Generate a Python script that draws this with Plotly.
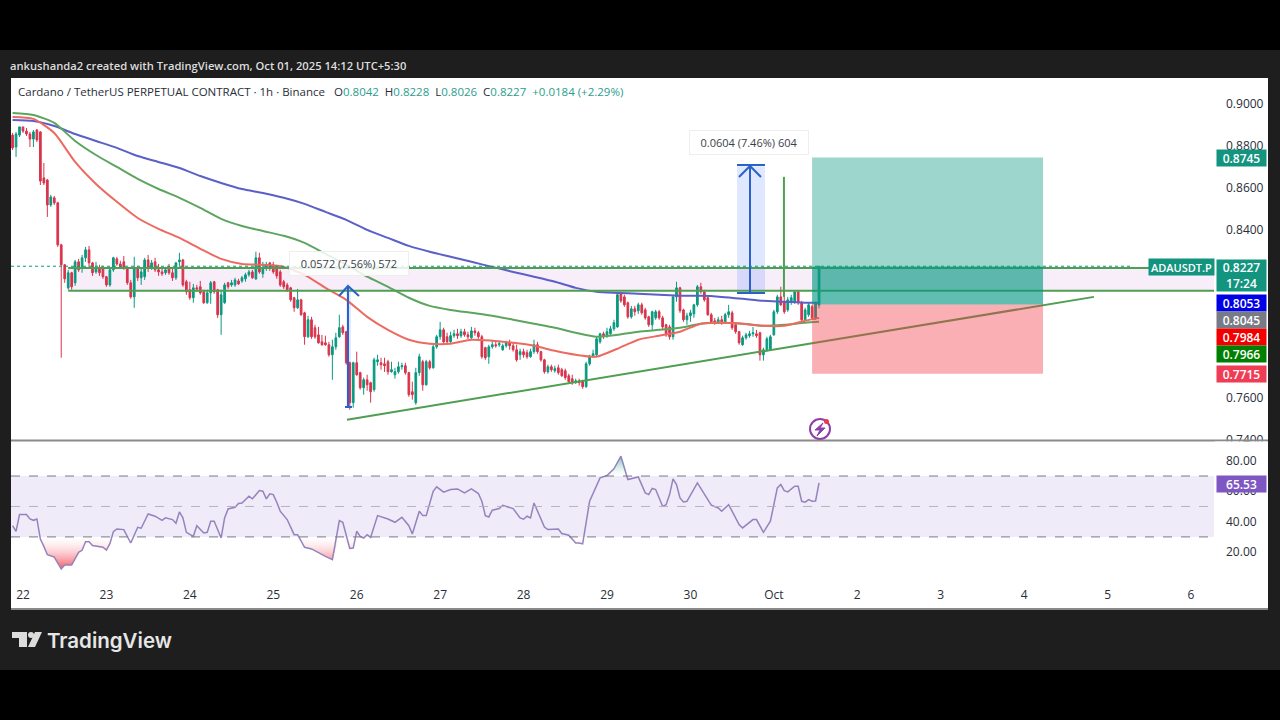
#!/usr/bin/env python
# -*- coding: utf-8 -*-
# ADAUSDT.P 1h chart, TradingView snapshot look
import pandas as pd
import plotly.graph_objects as go

# candle values in ticks of 0.0001, hourly from 2025-09-21 21:00
opens_t = [8852,8795,8852,8891,8871,8857,8833,8876,8867,8648,8638,8519,8553,8529,8329,8234,8124,8196,8148,8248,
           8224,8267,8305,8243,8200,8219,8219,8177,8138,8210,8262,8238,8248,8219,8148,8081,8219,8172,8177,8257,
           8219,8248,8210,8200,8196,8224,8196,8172,8248,8257,8153,8115,8077,8124,8129,8105,8053,8100,8153,8115,
           7996,8053,8148,8138,8138,8157,8157,8167,8186,8200,8167,8267,8191,8219,8243,8234,8219,8200,8153,8138,
           8124,8077,8029,8067,8005,7891,7972,7934,7900,7867,7862,7853,7805,7843,7891,7938,7915,7767,7577,7767,
           7720,7648,7686,7672,7639,7772,7767,7762,7772,7724,7710,7724,7748,7753,7720,7629,7577,7720,7772,7662,
           7772,7743,7843,7891,7924,7891,7867,7896,7905,7896,7915,7900,7886,7919,7910,7891,7839,7796,7843,7853,
           7853,7829,7848,7862,7848,7829,7805,7820,7815,7796,7820,7853,7820,7781,7724,7748,7729,7743,7734,7729,
           7705,7691,7672,7681,7681,7653,7762,7796,7805,7867,7905,7896,7905,7929,7938,8096,8081,8053,7986,8024,
           8015,8043,8019,7986,7948,7981,8010,7981,7948,7938,7891,8081,8124,8019,7972,7991,8000,8043,8129,8105,
           8077,7996,7967,7962,7972,7962,7996,8005,7948,7915,7853,7886,7896,7905,7905,7910,7805,7829,7829,7900,
           8010,8081,8058,8019,8058,8058,8105,8053,7972,7996,8034,7981,8042]
closes_t = [8791,8857,8891,8871,8857,8833,8867,8829,8633,8624,8519,8557,8529,8329,8234,8167,8196,8129,8248,8210,
            8267,8305,8243,8196,8219,8196,8177,8138,8210,8267,8238,8224,8219,8148,8081,8219,8172,8200,8257,8219,
            8243,8210,8200,8191,8210,8196,8172,8243,8257,8138,8105,8077,8124,8119,8100,8053,8100,8148,8105,7996,
            8091,8138,8129,8148,8162,8143,8172,8186,8200,8172,8267,8200,8219,8234,8219,8200,8181,8138,8129,8115,
            8067,8029,8067,7996,7891,7972,7891,7891,7862,7853,7853,7805,7843,7886,7934,7910,7767,7577,7767,7710,
            7648,7686,7662,7629,7781,7781,7758,7753,7724,7734,7724,7748,7753,7720,7615,7615,7720,7796,7662,7772,
            7743,7843,7891,7924,7867,7867,7896,7905,7896,7915,7900,7891,7919,7910,7891,7796,7791,7843,7853,7848,
            7858,7848,7862,7848,7829,7781,7820,7805,7796,7820,7853,7820,7781,7724,7748,7734,7739,7720,7705,7696,
            7677,7672,7681,7672,7653,7762,7796,7810,7881,7905,7891,7915,7929,7958,8091,8062,8043,7986,8024,8010,
            8043,8005,7981,7948,8010,8010,7981,7938,7900,7891,8081,8124,8015,7972,7991,8005,8043,8129,8105,8067,
            7996,7962,7962,7972,7962,7996,8010,7934,7915,7862,7886,7900,7905,7910,7896,7805,7829,7881,7891,8010,
            8081,8043,8010,8067,8077,8105,8053,7972,8019,8043,7981,8053,8227]
highs_t = [8862,8867,8891,8891,8886,8867,8876,8881,8871,8719,8643,8567,8562,8534,8334,8238,8210,8200,8257,8262,
           8281,8319,8324,8248,8248,8234,8229,8181,8219,8272,8272,8253,8276,8224,8162,8272,8229,8219,8267,8281,
           8257,8267,8238,8219,8224,8238,8224,8248,8291,8262,8162,8153,8143,8138,8157,8115,8115,8157,8157,8119,
           8115,8148,8153,8162,8172,8167,8181,8196,8210,8210,8296,8291,8248,8248,8248,8248,8234,8210,8162,8148,
           8129,8081,8119,8072,8010,7991,7986,7948,7938,7900,7896,7867,7877,7910,7996,7948,7919,7772,7772,7820,
           7724,7696,7710,7677,7791,7805,7791,7791,7781,7772,7743,7772,7767,7767,7724,7677,7743,7810,7781,7781,
           7781,7853,7900,7962,7934,7910,7915,7924,7929,7929,7929,7915,7938,7934,7919,7900,7843,7853,7872,7867,
           7872,7858,7872,7877,7862,7853,7834,7834,7829,7834,7877,7867,7824,7786,7758,7758,7753,7758,7743,7739,
           7715,7710,7691,7691,7686,7772,7805,7829,7891,7910,7915,7934,7943,7972,8105,8105,8091,8058,8038,8038,
           8053,8053,8029,7991,8015,8019,8019,7991,7953,7948,8091,8153,8129,8024,8005,8019,8048,8138,8148,8115,
           8081,8005,7981,7986,7991,8005,8043,8015,7953,7919,7896,7910,7919,7938,7924,7915,7839,7891,7900,8019,
           8091,8129,8115,8081,8091,8110,8110,8062,8029,8053,8043,8058,8228]
lows_t = [8781,8748,8843,8862,8848,8795,8795,8819,8614,8614,8462,8510,8519,8319,7791,8148,8115,8115,8134,8200,
          8196,8248,8224,8181,8191,8181,8167,8129,8129,8200,8229,8215,8210,8138,8072,8029,8157,8138,8162,8200,
          8210,8200,8181,8181,8186,8186,8157,8162,8229,8129,8091,8067,8053,8105,8091,8048,8048,8048,8096,7981,
          7900,8048,8119,8129,8129,8138,8148,8153,8177,8167,8162,8191,8172,8205,8205,8191,8167,8129,8119,8105,
          8058,8010,8024,7991,7853,7886,7881,7881,7858,7848,7848,7796,7686,7829,7886,7900,7758,7543,7553,7705,
          7639,7615,7634,7577,7629,7753,7734,7724,7710,7720,7691,7715,7734,7710,7605,7591,7567,7705,7634,7658,
          7734,7739,7834,7877,7853,7858,7862,7886,7881,7886,7891,7881,7881,7896,7881,7786,7781,7762,7834,7839,
          7843,7824,7839,7829,7820,7772,7781,7791,7786,7791,7810,7810,7772,7715,7715,7724,7720,7710,7700,7686,
          7672,7662,7667,7658,7643,7648,7753,7791,7800,7858,7881,7886,7896,7919,7934,8053,8034,7977,7977,7991,
          8000,7996,7972,7938,7924,7972,7972,7924,7891,7877,7877,8058,8005,7962,7948,7962,7981,8034,8096,8058,
          7991,7953,7948,7953,7948,7958,7981,7924,7905,7853,7848,7877,7886,7891,7886,7777,7777,7820,7824,7896,
          8000,8038,8000,8010,8043,8048,8043,7962,7967,7986,7972,7972,8026]

# moving averages read every 6 hours (ticks), last point is the live candle
ma_hours = [0,6,12,18,24,30,36,42,48,54,60,66,72,78,84,90,96,102,108,114,120,126,132,138,144,150,156,162,168,174,
            180,186,192,198,204,210,216,222,228,232]
ma_blue = [8924,8919,8895,8857,8824,8791,8752,8724,8695,8657,8624,8595,8576,8553,8524,8486,8448,8400,8362,8324,
           8296,8272,8248,8224,8200,8177,8153,8124,8105,8100,8096,8091,8086,8086,8081,8072,8062,8058,8053,8053]
ma_green = [8957,8948,8910,8824,8757,8700,8643,8595,8553,8505,8453,8419,8395,8372,8338,8286,8234,8177,8129,8077,
            8038,8019,8005,7991,7972,7953,7934,7910,7891,7900,7915,7924,7934,7953,7958,7953,7943,7948,7958,7962]
ma_red = [8938,8929,8862,8724,8619,8534,8457,8405,8362,8310,8262,8238,8234,8224,8186,8124,8067,7986,7924,7877,
          7858,7858,7877,7872,7862,7848,7824,7805,7796,7834,7877,7896,7915,7953,7958,7953,7943,7943,7967,7981]

# RSI vertices
rsi_hours = [0,1,2,4,5,6,7,8,9,10,12,14,15,17,19,20,21,22,23,26,27,28,29,30,32,33,34,36,37,39,41,43,44,46,47,48,49,
             50,52,53,55,56,57,58,60,61,62,64,65,66,68,69,71,72,73,74,75,76,77,79,81,82,84,86,88,90,92,94,95,97,98,
             99,100,101,102,103,105,108,110,112,114,115,117,118,119,121,122,124,126,128,130,132,134,135,136,137,138,
             140,141,143,144,146,147,148,149,150,153,154,157,158,160,162,163,164,166,169,171,173,175,177,180,182,183,
             184,185,187,188,189,190,191,192,193,194,197,199,201,203,204,206,209,210,212,213,214,216,218,220,221,222,
             223,225,226,227,228,229,230,231,232]
rsi_vals = [37.4,33.7,44.7,44.7,41.8,40.9,41.8,28.6,23.8,18.3,16.8,8.9,11.5,11.5,19.9,21.2,26.9,26.9,24.3,23.2,21.4,
            25.6,33.5,35.2,34.8,30.0,26.0,36.3,35.7,45.1,43.6,40.9,42.5,41.4,39.0,46.4,42.5,33.0,30.4,37.4,32.6,33.0,
            40.3,40.3,29.3,42.5,48.4,49.5,51.9,52.3,56.7,55.0,60.4,60.0,55.0,58.3,57.8,52.8,46.9,41.4,31.5,31.5,23.2,
            22.1,19.4,17.2,15.1,40.7,39.6,22.5,22.7,33.7,30.4,29.3,31.5,29.7,44.0,41.8,39.6,42.9,37.4,31.9,46.9,44.0,
            44.0,60.0,62.9,59.4,61.1,61.5,58.9,61.5,58.5,53.4,44.0,43.1,47.5,48.6,50.8,49.0,48.6,42.5,41.6,43.6,42.5,
            52.3,36.5,34.8,35.2,32.2,31.1,26.0,26.0,25.4,53.4,68.8,70.3,74.7,83.0,67.7,69.4,58.9,57.8,61.8,61.1,50.1,
            51.2,57.8,68.1,64.4,55.6,53.0,53.4,65.5,57.8,50.8,49.0,46.9,51.2,38.1,35.9,39.2,41.4,41.4,33.0,40.3,62.2,
            64.4,60.4,59.6,63.3,63.3,53.4,52.8,54.5,53.4,53.6,65.53]

day_ticks = ["2025-09-22","2025-09-23","2025-09-24","2025-09-25","2025-09-26","2025-09-27","2025-09-28","2025-09-29",
             "2025-09-30","2025-10-01","2025-10-02","2025-10-03","2025-10-04","2025-10-05","2025-10-06"]
day_labels = ["22","23","24","25","26","27","28","29","30","Oct","2","3","4","5","6"]
price_ticks = [0.74,0.76,0.84,0.86,0.88,0.90]  # the others sit under the price tags
rsi_ticks = [20,40,60,80]

# drawings, prices
zone_top = 0.8219
zone_bottom = 0.8110
tp_price = 0.8745
entry_price = 0.8045
sl_price = 0.7715
last_price = 0.8227
range1_low, range1_high = 0.8100, 0.8704
range2_low, range2_high = 0.7558, 0.8130
trend_x = ["2025-09-25 21:12", "2025-10-04 20:05"]
trend_y = [0.7496, 0.8081]
spike_x = ["2025-10-01 02:54", "2025-10-01 02:54"]
spike_y = [0.8081, 0.8653]

GREEN = "#089981"
RED = "#d9344c"
DRAW_GREEN = "#4f9e52"
BLUE = "#2962c8"
FONT = "Open Sans, sans-serif"
W, H = 1280, 720
start = pd.Timestamp("2025-09-21 21:00")
times = [start + pd.Timedelta(hours=i) for i in range(len(closes_t))]

def px(x):
    return x / W

def py(y):
    return 1 - y / H

def hrs(lst):
    return [start + pd.Timedelta(hours=h) for h in lst]

def ticks(lst):
    return [v / 10000 for v in lst]

fig = go.Figure()

fig.add_trace(go.Candlestick(x=times, open=ticks(opens_t), high=ticks(highs_t), low=ticks(lows_t), close=ticks(closes_t),
                             increasing=dict(line=dict(color=GREEN, width=1), fillcolor=GREEN),
                             decreasing=dict(line=dict(color=RED, width=1), fillcolor=RED),
                             whiskerwidth=0, showlegend=False, hoverinfo="skip"))
for vals, col in [(ma_blue, "#5b5fc7"), (ma_green, "#5da55f"), (ma_red, "#ec6a60")]:
    fig.add_trace(go.Scatter(x=hrs(ma_hours), y=ticks(vals), mode="lines", line=dict(color=col, width=2, shape="spline", smoothing=0.6),
                             showlegend=False, hoverinfo="skip"))

# trend line and the long green spike
fig.add_trace(go.Scatter(x=trend_x, y=trend_y, mode="lines", line=dict(color=DRAW_GREEN, width=2), showlegend=False))
fig.add_trace(go.Scatter(x=spike_x, y=spike_y, mode="lines", line=dict(color=DRAW_GREEN, width=2), showlegend=False))

# RSI with the red / green gradient outside the band
rsi_x = hrs(rsi_hours)
fig.add_trace(go.Scatter(x=rsi_x, y=[30] * len(rsi_x), xaxis="x2", yaxis="y2", mode="lines", line=dict(width=0),
                         showlegend=False))
fig.add_trace(go.Scatter(x=rsi_x, y=[min(v, 30) for v in rsi_vals], xaxis="x2", yaxis="y2", mode="lines",
                         line=dict(width=0), fill="tonexty",
                         fillgradient=dict(type="vertical", colorscale=[[0, "rgba(242,54,69,0.85)"], [1, "rgba(255,255,255,0.2)"]]),
                         showlegend=False))
fig.add_trace(go.Scatter(x=rsi_x, y=[70] * len(rsi_x), xaxis="x2", yaxis="y2", mode="lines", line=dict(width=0),
                         showlegend=False))
fig.add_trace(go.Scatter(x=rsi_x, y=[max(v, 70) for v in rsi_vals], xaxis="x2", yaxis="y2", mode="lines",
                         line=dict(width=0), fill="tonexty",
                         fillgradient=dict(type="vertical", colorscale=[[0, "rgba(255,255,255,0.2)"], [1, "rgba(8,153,129,0.6)"]]),
                         showlegend=False))
fig.add_trace(go.Scatter(x=rsi_x, y=rsi_vals, xaxis="x2", yaxis="y2", mode="lines",
                         line=dict(color="#9583bd", width=1.5), showlegend=False))

shapes = []

def rect(x0, x1, y0, y1, color, layer="below", line=None):
    shapes.append(dict(type="rect", xref="paper", yref="paper", x0=px(x0), x1=px(x1), y0=py(y0), y1=py(y1),
                       fillcolor=color, line=line or dict(width=0), layer=layer))

def drect(x0, x1, y0, y1, color, layer="below"):
    shapes.append(dict(type="rect", xref="x", yref="y", x0=x0, x1=x1, y0=y0, y1=y1, fillcolor=color,
                       line=dict(width=0), layer=layer))

def dline(x0, x1, y0, y1, color, width=2, dash="solid", xref="x", yref="y", layer="above"):
    shapes.append(dict(type="line", xref=xref, yref=yref, x0=x0, x1=x1, y0=y0, y1=y1,
                       line=dict(color=color, width=width, dash=dash), layer=layer))

def path(pts, color, width=2, fill=None, layer="above"):
    d = "M" + " L".join(f"{px(a):.5f},{py(b):.5f}" for a, b in pts)
    if fill:
        d += " Z"
    shapes.append(dict(type="path", xref="paper", yref="paper", path=d, layer=layer, fillcolor=fill,
                       line=dict(color=color, width=width)))

# page frame
rect(0, W, 50, 670, "#1e1e1e")
rect(11, 1268, 78, 609, "#ffffff")
dline(px(11), px(1268), py(440.5), py(440.5), "#8a8a8a", 2, xref="paper", yref="paper")
dline(px(11), px(1268), py(609), py(609), "#8a8a8a", 2, xref="paper", yref="paper")

# support / resistance zone
ZONE_L, ZONE_R = "2025-09-22 13:00", "2025-10-06 06:37"
drect(ZONE_L, ZONE_R, zone_bottom, zone_top, "rgba(156,39,176,0.08)")
dline(ZONE_L, ZONE_R, zone_top, zone_top, DRAW_GREEN)
dline(ZONE_L, ZONE_R, zone_bottom, zone_bottom, DRAW_GREEN)
dline("2025-09-21 20:33", "2025-10-05 07:20", last_price, last_price, GREEN, 1, "dot")

# long position tool
POS_L, POS_R = "2025-10-01 11:00", "2025-10-04 05:26"
drect(POS_L, POS_R, entry_price, tp_price, "rgba(8,153,129,0.40)", "above")
drect(POS_L, POS_R, entry_price, last_price, "rgba(8,153,129,0.40)", "above")
drect(POS_L, POS_R, sl_price, entry_price, "rgba(242,54,69,0.40)", "above")

# price range tools
drect("2025-09-30 13:24", "2025-09-30 21:27", range1_low, range1_high, "rgba(41,98,255,0.15)")
drect("2025-09-25 21:00", "2025-09-25 22:20", range2_low, range2_high, "rgba(41,98,255,0.15)")
path([(737, 293), (765, 293)], BLUE)
path([(737, 165), (765, 165)], BLUE)
path([(750, 293), (750, 166)], BLUE)
path([(739, 177), (750, 166), (761, 177)], BLUE)
path([(345, 407), (352, 407)], BLUE)
path([(348, 407), (348, 286)], BLUE)
path([(339, 296), (348, 286), (359, 296)], BLUE)

# clip the cut 0.7400 label
rect(1215, 1267, 441.5, 452, "#ffffff", "above")

# lightning badge
shapes.append(dict(type="circle", xref="paper", yref="paper", x0=px(810), x1=px(830), y0=py(439), y1=py(419),
                   line=dict(color="#8e3fa8", width=2), fillcolor="#ffffff", layer="above"))
path([(823, 423), (815, 430), (820, 430), (817, 436), (825, 428), (820, 428)], "#8e3fa8", 1, "#8e3fa8")
shapes.append(dict(type="circle", xref="paper", yref="paper", x0=px(824), x1=px(829), y0=py(424), y1=py(419),
                   line=dict(width=0), fillcolor="#f23645", layer="above"))

# TradingView logo
LOGO = "#dcdcdc"
path([(12, 632), (27, 632), (27, 647), (19, 647), (19, 638), (12, 638)], LOGO, 0, LOGO)
shapes.append(dict(type="circle", xref="paper", yref="paper", x0=px(28), x1=px(34), y0=py(638), y1=py(632),
                   line=dict(width=0), fillcolor=LOGO, layer="above"))
path([(35, 632), (42, 632), (35, 647), (28, 647)], LOGO, 0, LOGO)

# RSI band and levels
shapes.append(dict(type="rect", xref="x2", yref="y2", x0="2025-09-21 20:33", x1="2025-10-06 06:37", y0=30, y1=70,
                   fillcolor="rgba(126,87,194,0.12)", line=dict(width=0), layer="below"))
for lvl, col in [(70, "#787b86"), (50, "#b4b4c0"), (30, "#787b86")]:
    dline("2025-09-21 20:33", "2025-10-06 06:37", lvl, lvl, col, 1, "dash", "x2", "y2")

annos = []

def text(x, y, s, size, color="#131722", anchor="left", family=FONT, weight=400):
    annos.append(dict(xref="paper", yref="paper", x=px(x), y=py(y), text=s, showarrow=False, xanchor=anchor,
                      yanchor="middle", font=dict(size=size, color=color, family=family, weight=weight)))

def tag(y, s, color, height=16, x=1241.5, width=49, size=12):
    annos.append(dict(xref="paper", yref="paper", x=px(x), y=py(y), text=s, showarrow=False, bgcolor=color,
                      width=width, height=height, borderpad=0, align="center", xanchor="center", yanchor="middle",
                      font=dict(size=size, color="#ffffff", family=FONT, weight=600)))

text(8, 65, "ankushanda2 created with TradingView.com, Oct 01, 2025 14:12 UTC+5:30", 11.2, "#dddddd", weight=600)
V = '<span style="color:#2a9d8f">%s</span>'
text(16, 91, "Cardano / TetherUS PERPETUAL CONTRACT · 1h · Binance", 11.5, "#2a2e39")
text(332, 91, "O" + V % "0.8042" + "  H" + V % "0.8228" + "  L" + V % "0.8026" + "  C" + V % "0.8227" + "  "
     + V % "+0.0184 (+2.29%)", 11.5, "#2a2e39")
text(109, 640, "TradingView", 20.5, "#e6e6e6", "center", "Inter, sans-serif", 600)

tag(158, "0.8745", "#13947f")
tag(275, "0.8227<br>17:24", "#13947f", 31)
tag(267, "ADAUSDT.P", "#13947f", 16, 1181.5, 65, 11)
tag(303, "0.8053", "#0000e6")
tag(320, "0.8045", "#787b86")
tag(337, "0.7984", "#f20000")
tag(354, "0.7966", "#008000")
tag(374, "0.7715", "#ef3d56")
tag(484, "65.53", "#7e57c2")

for cx, cy, s in [(749, 143, "0.0604 (7.46%) 604"), (349, 263, "0.0572 (7.56%) 572")]:
    annos.append(dict(xref="paper", yref="paper", x=px(cx), y=py(cy), text=s, showarrow=False, width=118, height=23,
                      xanchor="center", yanchor="middle", bgcolor="rgba(255,255,255,0.85)", bordercolor="#eeeeee",
                      borderwidth=1, borderpad=0, font=dict(size=11, color="#3a3e49", family=FONT)))

RANGE_X = ["2025-09-21 20:33", "2025-10-06 06:37"]
AX = dict(showgrid=False, zeroline=False, showline=False, automargin=False)
TICKF = dict(size=12, color="#2a2e39", family=FONT)
fig.update_layout(
    width=W, height=H, margin=dict(l=0, r=0, t=0, b=0, autoexpand=False), paper_bgcolor="#000000",
    plot_bgcolor="rgba(0,0,0,0)", showlegend=False, dragmode=False, hovermode=False,
    xaxis=dict(domain=[px(11), px(1214)], range=RANGE_X, type="date", anchor="y", showticklabels=False, ticks="",
               rangeslider=dict(visible=False), **AX),
    yaxis=dict(domain=[py(440), py(78)], range=[0.7399, 0.9124], side="right", anchor="x", tickvals=price_ticks,
               tickformat=".4f", ticks="", ticklabelstandoff=11, tickfont=TICKF, **AX),
    xaxis2=dict(domain=[px(11), px(1214)], range=RANGE_X, type="date", anchor="y2", tickvals=day_ticks,
                ticktext=day_labels, ticks="", ticklabelstandoff=6, tickfont=TICKF, **AX),
    yaxis2=dict(domain=[py(580), py(441)], range=[1.7, 93], side="right", anchor="x2", tickvals=rsi_ticks,
                tickformat=".2f", ticks="", ticklabelstandoff=11, tickfont=TICKF, **AX),
    shapes=shapes, annotations=annos,
)

fig.write_html("out.html", config={"responsive": False, "displayModeBar": False},
               post_script="document.body.style.margin='0';document.documentElement.style.overflow='hidden';")
